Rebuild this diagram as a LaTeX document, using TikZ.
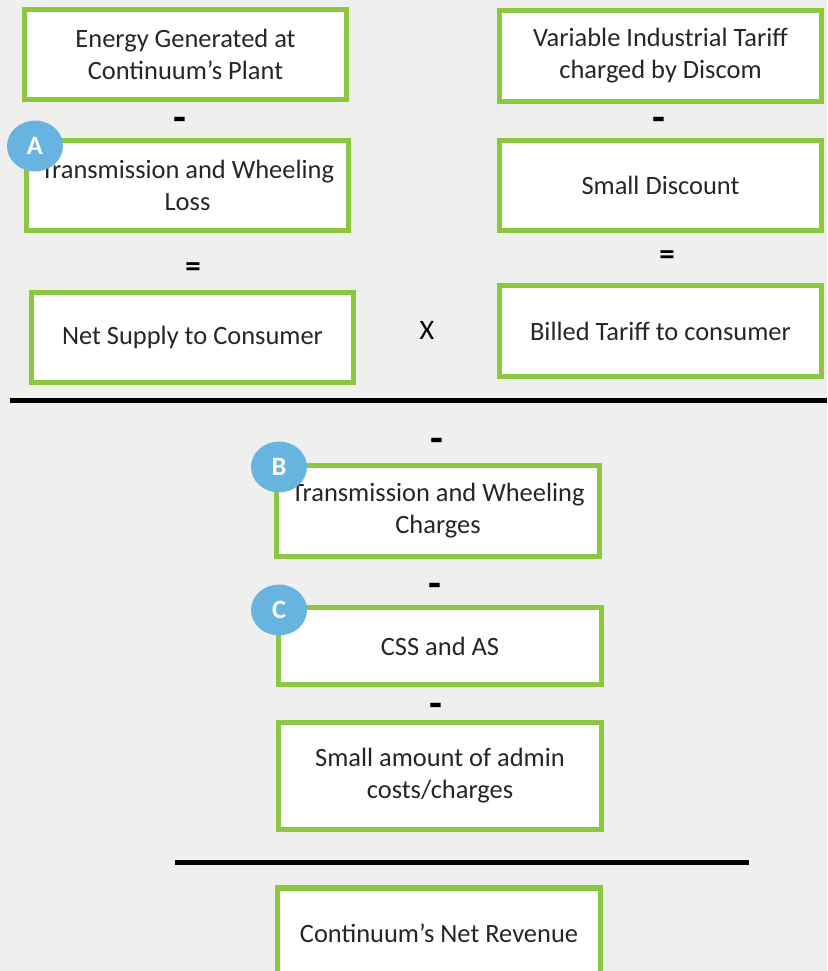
\documentclass[tikz,border=0pt]{standalone}
\usepackage{fontspec}
\setmainfont{Carlito}
\usetikzlibrary{shapes.geometric}
\definecolor{boxgreen}{HTML}{8DC63F}
\definecolor{badgeblue}{HTML}{67B4E1}
\definecolor{bggray}{HTML}{EFEFED}
\definecolor{textgray}{HTML}{262626}
\begin{document}
\begin{tikzpicture}[
    x=0.025cm, y=-0.025cm,
    box/.style={rectangle, draw=boxgreen, line width=1.25mm, fill=white, minimum width=8.05cm, minimum height=2.25cm, inner sep=0pt, align=center, text=textgray, font=\fontsize{18.8}{22.8}\selectfont},
    badge/.style={ellipse, fill=badgeblue, minimum width=1.4cm, minimum height=1.27cm, inner sep=0pt, text=white, font=\fontsize{18.8}{22.8}\selectfont\bfseries},
    opsign/.style={text=black, inner sep=0pt, font=\fontsize{20}{22.8}\selectfont},
    eqsign/.style={text=black, inner sep=0pt, font=\fontsize{22}{22.8}\selectfont\bfseries},
    minussign/.style={text=black, inner sep=0pt, font=\fontsize{30}{30}\selectfont\bfseries},
    rule/.style={line width=1.25mm}
]
% Background
\fill[bggray] (0,0) rectangle (827,971);
\useasboundingbox (0,0) rectangle (827,971);
\clip (0,0) rectangle (827,971);

% Energy side
\node[box] (energy) at (185.5,54.5) {Energy Generated at\\Continuum’s Plant};
\node[minussign] (minA) at (180,124) {-};
\node[box] (loss) at (187.5,185.5) {Transmission and Wheeling\\Loss};
\node[eqsign] (eqA) at (193,270) {=};
\node[box] (supply) at (192.5,337.5) {Net Supply to Consumer};

% Tariff side
\node[box] (tariff) at (660.5,56) {Variable Industrial Tariff\\charged by Discom};
\node[minussign] (minB) at (659,124) {-};
\node[box] (discount) at (660.5,185.5) {Small Discount};
\node[eqsign] (eqB) at (667,258) {=};
\node[box] (billed) at (660.5,331) {Billed Tariff to consumer};
\node[opsign] (times) at (427,330) {X};

% Upper rule
\draw[rule] (10,400) -- (827,400);

% Deductions
\node[minussign] (minC) at (437,445) {-};
\node[box] (charges) at (438,511) {Transmission and Wheeling\\Charges};
\node[minussign] (minD) at (435,590) {-};
\node[box, minimum height=1.925cm] (cssas) at (440,646) {CSS and AS};
\node[minussign] (minE) at (436,710) {-};
\node[box, minimum height=2.675cm] (admin) at (440,776) {Small amount of admin\\costs/charges};

% Lower rule
\draw[rule] (175,862) -- (749,862);

% Result
\node[box] (revenue) at (439,933) {Continuum’s Net Revenue};

% Badges
\node[badge] (badgeA) at (35,146) {A};
\node[badge] (badgeB) at (279,467) {B};
\node[badge] (badgeC) at (279,610) {C};
\end{tikzpicture}
\end{document}
